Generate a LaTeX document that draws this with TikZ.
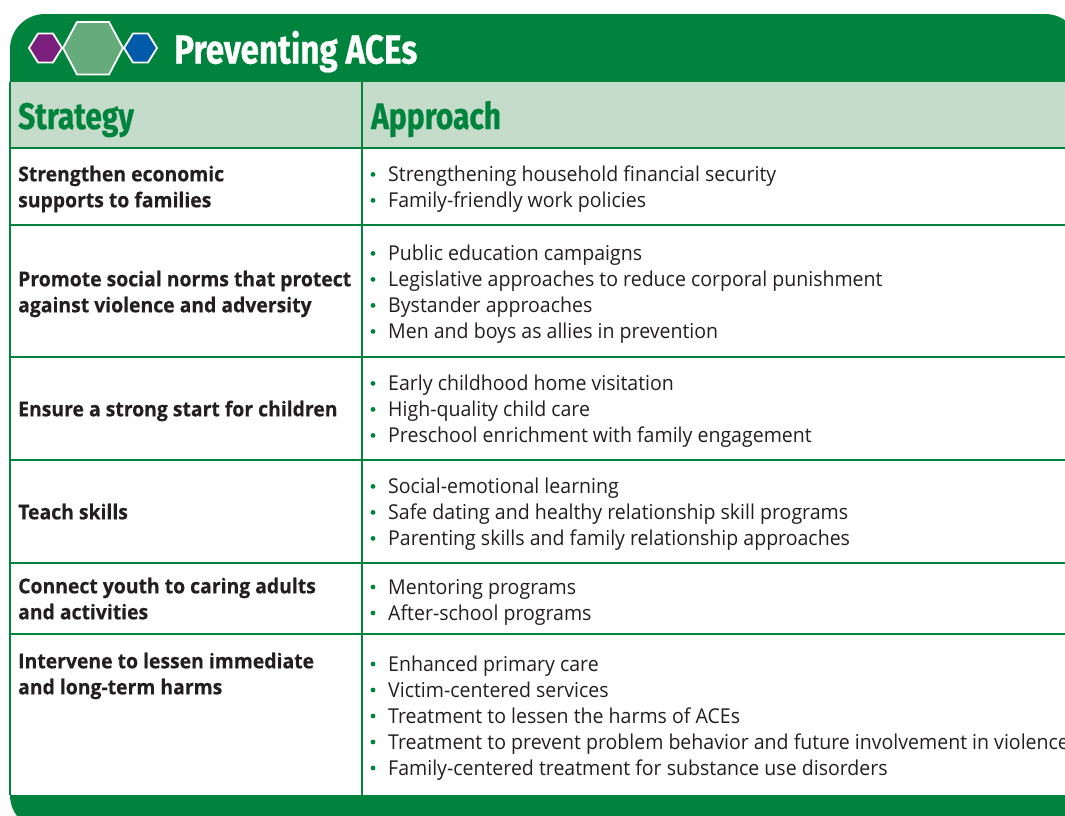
\documentclass[tikz,border=0pt]{standalone}
\usepackage{fontspec}
\setmainfont{Open Sans}
\newfontfamily\bodyfont[FakeStretch=0.953]{Open Sans}
\newfontfamily\boldfont[FakeStretch=0.945,FakeBold=0.4]{Open Sans Bold}
\newfontfamily\headfont[FakeStretch=0.81,FakeBold=0.6]{Fira Sans Bold}
\newfontfamily\titlefont[FakeStretch=0.82,FakeBold=0.6]{Fira Sans Bold}
\definecolor{acegreen}{HTML}{00843D}
\definecolor{acelight}{HTML}{C5DCCB}
\definecolor{acetext}{HTML}{231F20}
\definecolor{acepurple}{HTML}{7B1F7E}
\definecolor{aceblue}{HTML}{0059A9}
\definecolor{acemid}{HTML}{66AB7C}
\tikzset{
  rule/.style={draw=acegreen,line width=1.6pt},
  hexa/.style={draw=white,line width=1.8pt,line join=miter},
  strat/.style={anchor=base west,inner sep=0pt,text=acetext,font=\boldfont\fontsize{20.5}{24}\selectfont},
  appr/.style={anchor=base west,inner sep=0pt,text=acetext,font=\bodyfont\fontsize{20.5}{24}\selectfont},
  bul/.style={circle,fill=acegreen,inner sep=0pt,minimum size=4.8pt},
  colhead/.style={anchor=base west,inner sep=0pt,text=acegreen,font=\headfont\fontsize{37}{40}\selectfont},
  title/.style={anchor=base west,inner sep=0pt,text=white,font=\titlefont\fontsize{40.5}{44}\selectfont},
}
\newcommand{\apitem}[3]{%
  \node[bul] (b#1) at (373,#2-7) {};
  \node[appr] (a#1) at (388,#2) {#3};}
\begin{document}
\begin{tikzpicture}[x=1pt,y=-1pt]
\useasboundingbox (0,0) rectangle (1065,815);
\clip (0,0) rectangle (1065,815);
\fill[white] (0,0) rectangle (1065,815);
% footer band
\fill[acegreen,rounded corners=35pt] (10,500) -- (10,830) -- (1080,830) -- (1080,500) -- cycle;
% header band
\fill[acegreen,rounded corners=35pt] (10,300) -- (10,14) -- (1080,14) -- (1080,300) -- cycle;
% column heading band
\fill[acelight] (10,82) rectangle (1065,148);
% white table body
\fill[white] (10,148) rectangle (1065,795);
% rules
\draw[rule] (10,82) -- (10,795);
\draw[rule] (362,82) -- (362,795);
\foreach \yy in {148,225,357,460,563,634} \draw[rule] (10,\yy) -- (1065,\yy);
% hexagons
\draw[hexa,fill=acepurple] (29,48) -- (38,33.5) -- (53,33.5) -- (62,48) -- (53,62.5) -- (38,62.5) -- cycle;
\draw[hexa,fill=aceblue] (157,48) -- (148,33.5) -- (133,33.5) -- (124,48) -- (133,62.5) -- (148,62.5) -- cycle;
\draw[hexa,fill=acemid] (63,48) -- (77,22) -- (109,22) -- (123,48) -- (109,74.5) -- (77,74.5) -- cycle;
% titles
\node[title] (ttl) at (174,63.5) {Preventing ACEs};
\node[colhead] (hs) at (18,129) {Strategy};
\node[colhead] (ha) at (371,129) {Approach};
% strategies
\node[strat] (s1a) at (18,181.3) {Strengthen economic};
\node[strat] (s1b) at (18,207.3) {supports to families};
\node[strat] (s2a) at (18,286.3) {Promote social norms that protect};
\node[strat] (s2b) at (18,312.3) {against violence and adversity};
\node[strat] (s3) at (18,416.3) {Ensure a strong start for children};
\node[strat] (s4) at (18,519.3) {Teach skills};
\node[strat] (s5a) at (18,593.3) {Connect youth to caring adults};
\node[strat] (s5b) at (18,619.3) {and activities};
\node[strat] (s6a) at (18,668.3) {Intervene to lessen immediate};
\node[strat] (s6b) at (18,694.3) {and long-term harms};
% approaches
\apitem{1}{181.4}{Strengthening household financial security}
\apitem{2}{207.4}{Family-friendly work policies}
\apitem{3}{260.4}{Public education campaigns}
\apitem{4}{286.4}{Legislative approaches to reduce corporal punishment}
\apitem{5}{312.4}{Bystander approaches}
\apitem{6}{338.4}{Men and boys as allies in prevention}
\apitem{7}{390.4}{Early childhood home visitation}
\apitem{8}{416.4}{High-quality child care}
\apitem{9}{442.4}{Preschool enrichment with family engagement}
\apitem{10}{493.4}{Social-emotional learning}
\apitem{11}{519.4}{Safe dating and healthy relationship skill programs}
\apitem{12}{545.4}{Parenting skills and family relationship approaches}
\apitem{13}{594}{Mentoring programs}
\apitem{14}{620}{After-school programs}
\apitem{15}{671}{Enhanced primary care}
\apitem{16}{697}{Victim-centered services}
\apitem{17}{723}{Treatment to lessen the harms of ACEs}
\apitem{18}{749}{Treatment to prevent problem behavior and future involvement in violence}
\apitem{19}{775}{Family-centered treatment for substance use disorders}
\end{tikzpicture}
\end{document}
